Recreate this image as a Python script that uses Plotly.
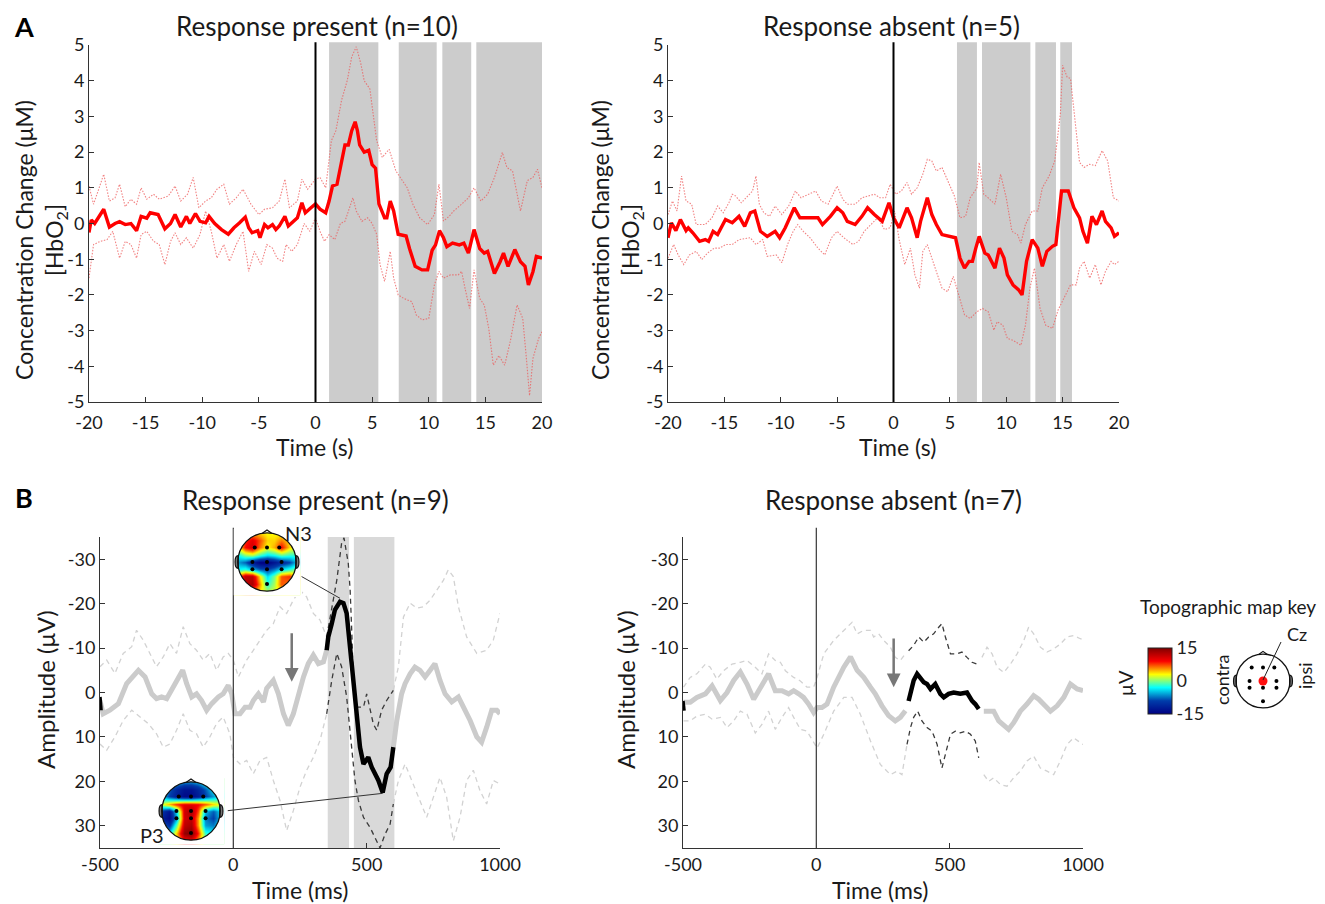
import math
import plotly.graph_objects as go

W, H = 1325, 904
OFF = 8            # page body margin of the browser
FW, FH = W - OFF, H - OFF
FONT = "Lato"

# ---------------- DATA ----------------
# Panel A, response present (n=10): (time s, HbO2 uM)
tl_mean = [(-20,-0.25),(-19.8,0.1),(-19.5,0.0),(-18.7,0.4),(-18.2,-0.1),(-17.7,0.0),(-17.3,0.05),(-16.8,-0.03),
           (-16.3,0.0),(-15.8,-0.2),(-15.4,0.2),(-14.9,0.15),(-14.6,0.3),(-13.9,0.25),(-13.3,-0.15),(-12.8,0.0),
           (-12.4,0.25),(-11.9,-0.1),(-11.4,0.2),(-11.1,0.0),(-10.6,0.28),(-10.2,0.06),(-9.7,0.02),(-9.4,0.2),
           (-8.9,0.0),(-8.3,-0.17),(-7.7,-0.3),(-7.2,-0.12),(-6.7,0.02),(-6.2,0.18),(-5.9,-0.12),(-5.6,-0.26),
           (-5.1,-0.2),(-4.9,-0.4),(-4.5,-0.03),(-4.2,-0.12),(-3.8,-0.03),(-3.5,-0.17),(-3.2,-0.07),(-2.7,0.2),
           (-2.4,-0.07),(-1.9,0.07),(-1.6,0.16),(-1.2,0.58),(-0.9,0.3),(-0.4,0.44),(0,0.55),(0.4,0.4),(0.9,0.3),
           (1.2,0.63),(1.5,1.05),(1.9,1.1),(2.3,1.7),(2.6,2.2),(2.9,2.2),(3.2,2.6),(3.5,2.85),(3.7,2.6),(3.9,2.2),
           (4.3,2.0),(4.7,2.05),(5.0,1.65),(5.3,1.55),(5.6,0.55),(6.1,0.16),(6.3,0.16),(6.6,0.63),(6.9,0.35),
           (7.3,-0.3),(8.0,-0.35),(8.3,-0.7),(8.8,-1.2),(9.4,-1.3),(9.9,-1.3),(10.3,-0.75),(10.6,-0.6),
           (10.95,-0.2),(11.3,-0.4),(11.6,-0.65),(12.1,-0.55),(12.7,-0.6),(13.1,-0.55),(13.5,-0.83),(14.0,-0.17),
           (14.5,-0.7),(14.9,-0.83),(15.2,-0.78),(15.8,-1.4),(16.3,-1.07),(16.6,-0.83),(17.0,-1.2),(17.6,-0.73),
           (18.1,-1.07),(18.5,-1.2),(18.8,-1.72),(19.2,-1.35),(19.5,-0.92),(20,-0.97)]
tl_upper = [(-20,1.05),(-19.6,0.54),(-19.1,1.0),(-18.7,1.38),(-18.2,0.63),(-17.7,0.72),(-17.3,1.1),(-16.8,0.47),
            (-16.3,0.68),(-15.8,0.54),(-15.4,1.0),(-14.9,0.68),(-14.3,0.82),(-13.8,0.68),(-13.0,0.77),(-12.4,1.05),
            (-11.9,0.63),(-11.3,0.82),(-10.8,1.29),(-10.3,0.44),(-9.7,0.63),(-9.2,0.72),(-8.7,0.96),(-8.1,1.1),
            (-7.6,0.54),(-7.0,0.72),(-6.4,0.96),(-5.7,0.54),(-5.0,0.25),(-4.5,0.4),(-3.8,0.44),(-3.2,0.63),
            (-2.7,1.24),(-2.3,0.44),(-1.6,0.63),(-1.2,1.24),(-0.7,0.96),(0,1.24),(0.4,1.29),(0.9,1.0),(1.4,2.32),
            (1.8,2.6),(2.3,3.45),(2.8,4.0),(3.2,4.67),(3.6,4.95),(4.0,4.48),(4.3,4.0),(4.8,3.77),(5.1,3.07),
            (5.4,2.32),(5.9,1.85),(6.5,2.08),(7.1,1.47),(7.7,1.2),(8.1,1.0),(8.6,0.54),(9.2,0.16),(9.9,-0.03),
            (10.5,0.25),(10.9,1.1),(11.3,0.07),(11.8,0.2),(12.2,0.35),(12.9,0.54),(13.5,0.72),(14.0,1.0),
            (14.6,0.63),(15.2,0.82),(15.8,1.29),(16.5,1.99),(16.9,1.57),(17.4,1.47),(18.1,0.35),(18.7,1.2),
            (19.2,1.29),(19.6,1.52),(20,1.0)]
tl_lower = [(-20,-1.53),(-19.6,-0.59),(-19.0,-0.5),(-18.4,-0.45),(-17.9,-0.22),(-17.3,-0.97),(-16.8,-0.5),
            (-16.3,-0.59),(-15.8,-0.97),(-15.4,-0.31),(-14.9,-0.22),(-14.3,-0.5),(-13.8,-0.59),(-13.3,-1.15),
            (-12.8,-0.5),(-12.4,-0.26),(-11.9,-0.59),(-11.4,-0.4),(-10.8,-0.69),(-10.2,-0.31),(-9.7,0.35),
            (-9.2,-0.22),(-8.7,-0.97),(-8.1,-0.59),(-7.6,-1.06),(-7.0,-0.59),(-6.4,-0.22),(-5.9,-1.34),(-5.4,-0.78),
            (-4.8,-1.15),(-4.3,-0.59),(-3.8,-0.69),(-3.4,-0.97),(-2.9,-1.06),(-2.6,-0.59),(-2.1,-0.78),(-1.6,-0.59),
            (-1.0,0.0),(-0.5,-0.22),(0,0.16),(0.4,-0.22),(0.8,-0.5),(1.2,-0.31),(1.7,-0.45),(2.2,0.0),(2.6,0.06),
            (3.3,0.72),(3.6,0.35),(4.1,0.06),(4.6,0.16),(5.0,0.0),(5.4,-0.3),(5.7,-1.15),(6.1,-1.62),(6.6,-0.78),
            (6.9,-1.53),(7.3,-2.0),(7.8,-2.1),(8.5,-2.19),(8.9,-2.56),(9.4,-2.7),(10.0,-2.66),(10.5,-1.72),
            (10.9,-1.34),(11.3,-1.53),(11.9,-1.44),(12.6,-1.44),(12.9,-1.34),(13.2,-1.81),(13.6,-2.38),(14.0,-1.3),
            (14.5,-2.1),(14.9,-2.28),(15.3,-2.94),(15.7,-3.97),(16.2,-3.7),(16.7,-3.97),(17.2,-3.3),(17.8,-2.28),
            (18.3,-2.66),(18.6,-3.7),(18.9,-4.82),(19.2,-3.78),(19.7,-3.22),(20,-3.03)]
tl_sig = [(1.2,5.55),(7.35,10.7),(11.2,13.75),(14.2,20.0)]

# Panel A, response absent (n=5)
tr_mean = [(-20,-0.4),(-19.7,0.02),(-19.3,-0.2),(-18.9,0.11),(-18.4,-0.2),(-18.2,-0.12),(-17.8,-0.26),(-17.2,-0.5),
           (-16.7,-0.45),(-16.4,-0.5),(-16.0,-0.22),(-15.6,-0.31),(-14.9,0.11),(-14.3,0.02),(-13.7,0.2),(-13.2,-0.08),
           (-12.7,0.3),(-12.3,0.35),(-11.8,-0.22),(-11.2,-0.36),(-10.5,-0.22),(-10.1,-0.4),(-9.6,-0.12),(-9.1,0.2),
           (-8.8,0.44),(-8.3,0.16),(-7.4,0.16),(-6.7,0.16),(-6.3,-0.03),(-5.6,0.2),(-5.0,0.44),(-4.5,0.3),
           (-4.1,0.06),(-3.4,-0.03),(-2.8,0.2),(-2.3,0.44),(-1.7,0.25),(-1.0,0.06),(-0.4,0.58),(0,0.16),
           (0.5,-0.12),(1.2,0.44),(1.6,0.16),(2.1,-0.4),(2.4,0.06),(3.0,0.72),(3.4,0.25),(3.8,-0.03),(4.3,-0.31),
           (5.0,-0.36),(5.5,-0.4),(5.9,-0.97),(6.3,-1.25),(6.7,-1.06),(7.0,-1.06),(7.3,-0.69),(7.6,-0.36),
           (8.1,-0.83),(8.4,-0.88),(9.0,-1.25),(9.4,-0.69),(9.8,-0.97),(10.1,-1.44),(10.6,-1.72),(11.1,-1.86),
           (11.4,-2.0),(11.8,-1.06),(12.3,-0.45),(12.8,-0.69),(13.2,-1.2),(13.6,-0.78),(14.1,-0.64),(14.4,-0.59),
           (14.9,0.91),(15.5,0.91),(16.0,0.44),(16.5,0.16),(16.8,-0.22),(17.2,-0.55),(17.6,0.2),(18.0,-0.03),
           (18.5,0.35),(18.8,0.06),(19.3,-0.12),(19.6,-0.36),(20,-0.26)]
tr_upper = [(-20,0.25),(-19.6,0.63),(-19.2,0.35),(-18.8,1.33),(-18.4,0.63),(-17.9,0.54),(-17.5,-0.03),(-16.7,-0.03),
            (-16.1,0.16),(-15.6,0.49),(-15.1,0.3),(-14.6,0.58),(-14.3,0.82),(-14.0,0.77),(-13.5,0.58),(-13.1,0.72),
            (-12.5,0.91),(-12.2,1.33),(-11.9,0.54),(-11.5,0.3),(-11.0,0.2),(-10.5,0.49),(-9.9,0.25),(-9.3,0.49),
            (-8.7,0.91),(-8.2,0.72),(-7.5,0.82),(-6.9,0.91),(-6.4,0.63),(-5.8,0.54),(-5.0,1.05),(-4.5,0.68),
            (-4.1,0.54),(-3.4,0.54),(-2.8,0.72),(-2.3,0.77),(-1.7,0.82),(-1.2,0.72),(-0.7,0.72),(-0.3,1.1),
            (0.2,0.82),(0.7,0.91),(1.2,1.15),(1.6,0.82),(2.1,1.0),(2.6,1.38),(3.0,1.8),(3.4,1.75),(3.8,1.47),
            (4.3,1.57),(4.8,1.2),(5.4,0.77),(5.9,0.16),(6.4,0.2),(6.8,0.72),(7.4,1.0),(7.6,1.71),(8.0,0.82),
            (8.4,0.72),(9.0,0.54),(9.5,1.38),(10.0,0.72),(10.5,-0.22),(11.0,-0.31),(11.3,-0.55),(11.7,-0.03),
            (12.3,0.35),(12.8,0.35),(13.2,1.0),(13.8,1.33),(14.3,1.75),(14.8,3.07),(15.0,4.43),(15.4,4.1),
            (15.7,4.06),(16.1,2.88),(16.5,1.71),(16.9,1.57),(17.4,1.66),(17.9,1.62),(18.5,2.04),(19.0,1.75),
            (19.5,0.72),(20,0.63)]
tr_lower = [(-20,-0.97),(-19.5,-0.59),(-19.1,-0.88),(-18.6,-1.15),(-18.1,-0.88),(-17.5,-0.78),(-17.0,-1.01),
            (-16.5,-0.83),(-15.9,-0.69),(-15.4,-0.69),(-14.9,-0.59),(-14.3,-0.59),(-13.7,-0.45),(-12.7,-0.4),
            (-12.2,-0.59),(-11.6,-0.45),(-11.2,-0.92),(-10.4,-0.88),(-9.9,-1.1),(-9.4,-0.59),(-8.9,-0.22),
            (-8.5,-0.03),(-8.0,-0.22),(-7.4,-0.4),(-6.7,-0.69),(-6.1,-0.88),(-5.5,-0.4),(-5.0,-0.22),(-4.4,-0.4),
            (-3.6,-0.59),(-3.1,-0.5),(-2.6,-0.22),(-2.0,-0.03),(-1.4,0.16),(-0.8,-0.17),(-0.3,-0.12),(0.1,0.35),
            (0.5,-0.45),(1.0,-1.15),(1.5,-0.69),(1.9,-1.44),(2.3,-1.81),(2.6,-0.78),(3.0,-0.59),(3.4,-0.97),
            (3.8,-1.34),(4.3,-1.81),(4.8,-1.91),(5.3,-1.48),(5.7,-1.91),(6.3,-2.56),(6.8,-2.66),(7.4,-2.47),
            (7.9,-2.38),(8.4,-2.47),(8.9,-2.99),(9.2,-2.75),(9.7,-2.85),(10.1,-3.22),(10.6,-3.27),(11.3,-3.41),
            (11.7,-2.85),(12.1,-1.81),(12.5,-1.25),(13.0,-2.38),(13.5,-2.85),(14.1,-2.94),(14.6,-2.42),
            (15.1,-2.1),(15.7,-1.72),(16.2,-1.72),(16.5,-1.25),(16.9,-1.06),(17.4,-1.53),(17.9,-1.15),
            (18.4,-1.72),(18.8,-1.34),(19.3,-1.06),(19.6,-1.15),(20,-1.06)]
tr_sig = [(5.63,7.4),(7.85,12.14),(12.58,14.41),(14.79,15.83)]

# Panel B, response present (n=9): (time ms, amplitude uV)
bl_mean = [(-500,1.8),(-488,4.8),(-463,4.0),(-431,2.5),(-400,-2.0),(-375,-3.5),(-356,-5.0),(-331,-3.5),(-306,0.3),
           (-288,1.4),(-269,1.0),(-250,1.4),(-225,-1.2),(-206,-3.5),(-190,-5.0),(-175,-2.0),(-156,1.0),(-138,0.3),
           (-119,1.8),(-100,4.0),(-81,2.5),(-56,1.0),(-38,0.3),(-19,-1.6),(-6,0.3),(6,4.8),(25,4.8),(44,3.3),
           (63,3.3),(75,1.8),(94,0.3),(113,2.1),(125,-0.9),(150,-2.7),(169,0.3),(188,4.8),(206,7.4),(225,4.8),
           (244,0.3),(263,-3.5),(281,-6.5),(300,-8.4),(319,-6.5),(338,-6.9),(350,-9.5),(356,-12.5),(369,-15.5),
           (381,-18.6),(400,-20.4),(413,-20.1),(425,-17.8),(438,-10.3),(450,-2.7),(463,6.3),(475,12.3),(488,16.1),
           (506,14.6),(519,16.8),(544,19.8),(560,22.5),(575,18.3),(590,16.8),(600,12.3),(613,6.3),(631,0.3),
           (644,-2.0),(663,-4.2),(681,-5.7),(700,-5.0),(719,-3.5),(738,-5.0),(756,-6.5),(775,-2.7),(794,0.3),
           (819,2.1),(844,1.0),(863,3.3),(888,6.3),(913,10.0),(931,11.2),(950,7.8),(969,4.0),(988,4.0),(1000,4.8)]
bl_ci_a = [(-500,-5.8),(-475,-7.3),(-444,-4.3),(-413,-8.8),(-381,-10.3),(-363,-14.0),(-338,-11.8),(-313,-8.8),
           (-288,-5.8),(-263,-8.0),(-238,-11.0),(-213,-8.8),(-188,-14.8),(-163,-11.0),(-138,-9.5),(-113,-7.3),
           (-88,-8.8),(-63,-5.0),(-38,-8.0),(-19,-8.8),(0,-7.3),(19,-3.5),(50,-7.3),(75,-9.5),(100,-11.8),
           (125,-14.0),(150,-15.5),(175,-19.3),(200,-17.8),(225,-20.8),(250,-23.0),(275,-21.5),(300,-17.8),
           (325,-16.3),(350,-12.5),(369,-19.3),(388,-25.3),(406,-33.6),(415,-34.8),(431,-29.1),(438,-23.1),
           (444,-14.0),(450,-2.7),(463,3.3),(488,3.3),(500,0.3),(513,4.0),(525,7.1),(538,8.5),(556,4.0),
           (575,1.8),(600,-0.5),(619,-5.8),(638,-17.0),(663,-20.1),(688,-19.0),(713,-19.3),(738,-20.8),
           (763,-23.0),(788,-25.3),(806,-27.6),(825,-26.1),(844,-19.3),(875,-12.5),(913,-8.8),(950,-9.5),
           (975,-11.8),(1000,-17.8)]
bl_ci_b = [(-500,11.6),(-475,13.0),(-444,10.0),(-413,6.3),(-381,4.0),(-350,5.5),(-319,7.0),(-288,9.3),(-263,12.3),
           (-238,11.6),(-213,8.5),(-188,4.8),(-163,8.5),(-138,9.3),(-113,12.3),(-88,10.0),(-63,7.0),(-38,5.5),
           (-13,9.3),(0,14.6),(25,16.1),(50,15.3),(75,18.3),(100,15.3),(125,14.6),(150,19.8),(175,24.3),
           (200,31.1),(225,26.6),(250,21.3),(275,17.5),(300,14.6),(325,10.8),(350,4.8),(369,-2.7),(388,-8.8),
           (406,-5.8),(425,1.0),(444,11.6),(456,19.8),(469,24.3),(488,28.1),(513,30.4),(538,33.4),(550,35.0),
           (569,31.9),(588,29.6),(600,25.1),(619,19.8),(644,16.1),(669,19.8),(700,24.3),(725,28.1),(750,23.6),
           (775,19.1),(800,23.6),(825,33.4),(850,28.1),(875,19.8),(900,17.5),(925,22.1),(950,25.1),(975,19.8),
           (1000,20.6)]
bl_black = (350, 600)
bl_edge = [(-500, 1.0), (-496, 4.0)]
bl_sig = [(354, 434), (452, 604)]
bl_arrow = (219, -13.7, -2.4)

# Panel B, response absent (n=7)
br_mean = [(-498,2.2),(-473,2.2),(-448,1.1),(-416,0.3),(-391,-1.5),(-360,1.8),(-335,0.0),(-310,-2.7),(-285,-4.6),
           (-260,-1.9),(-235,1.5),(-210,-1.2),(-179,-4.2),(-154,-0.4),(-129,-0.4),(-104,0.3),(-85,-0.4),(-66,0.3),
           (-48,1.1),(-29,2.6),(-10,4.5),(3,3.4),(21,3.4),(40,2.6),(65,-1.2),(103,-5.7),(128,-8.0),(153,-5.0),
           (178,-3.4),(203,-1.2),(221,0.3),(246,3.0),(271,5.2),(296,6.4),(315,5.6),(334,4.1),(346,1.9),(353,0.3),
           (365,-2.7),(378,-4.2),(390,-3.4),(403,-2.3),(415,-1.9),(428,-0.8),(446,-1.9),(465,0.3),(478,1.1),
           (496,0.3),(515,0.0),(540,0.3),(565,0.0),(584,1.9),(596,2.6),(609,3.7),(628,4.2),(646,4.2),(665,4.2),
           (684,6.4),(703,7.5),(721,8.3),(740,6.8),(765,4.2),(790,2.6),(815,0.7),(834,1.5),(859,3.0),(878,4.2),
           (903,3.0),(928,1.1),(953,-1.9),(978,-0.8),(1000,-0.4)]
br_ci_a = [(-498,-1.2),(-473,-3.4),(-448,-4.2),(-416,-6.4),(-398,-5.7),(-373,-3.0),(-348,-4.9),(-316,-6.4),
           (-285,-6.8),(-260,-7.2),(-229,-5.7),(-204,-4.2),(-179,-8.7),(-154,-7.2),(-135,-6.8),(-116,-4.9),
           (-85,-3.4),(-60,-2.6),(-35,-1.2),(-10,-1.2),(3,-3.4),(28,-8.7),(65,-11.7),(90,-13.2),(115,-14.7),
           (134,-15.8),(153,-13.2),(178,-14.0),(203,-14.0),(215,-12.5),(234,-13.2),(253,-11.7),(278,-10.2),
           (296,-7.9),(315,-7.2),(334,-8.7),(346,-9.4),(365,-10.6),(384,-12.5),(403,-11.3),(421,-12.5),
           (440,-13.2),(459,-14.7),(471,-15.5),(484,-12.5),(503,-8.7),(528,-8.7),(546,-9.1),(565,-7.9),
           (584,-6.8),(603,-6.4),(621,-7.9),(640,-10.2),(659,-8.7),(678,-5.7),(703,-4.5),(728,-6.4),(753,-8.7),
           (778,-11.7),(796,-14.7),(815,-13.2),(840,-10.2),(865,-9.1),(890,-9.8),(915,-10.9),(940,-12.5),
           (965,-12.8),(990,-12.1),(1000,-11.9)]
br_ci_b = [(-498,6.4),(-473,6.4),(-448,5.3),(-416,4.9),(-391,6.0),(-360,5.6),(-335,7.9),(-310,6.4),(-285,4.2),
           (-260,4.9),(-229,9.1),(-204,7.2),(-179,4.2),(-154,8.3),(-129,5.6),(-104,3.4),(-85,5.6),(-60,8.3),
           (-35,8.7),(-10,11.3),(3,12.5),(28,9.4),(65,4.2),(103,1.1),(134,1.1),(165,4.9),(203,10.9),(240,16.2),
           (278,18.5),(303,17.7),(321,18.5),(340,11.7),(353,7.9),(365,5.6),(380,4.2),(396,6.4),(415,7.9),
           (434,8.7),(453,11.7),(471,17.0),(484,14.0),(503,9.4),(521,8.7),(540,9.1),(559,8.7),(578,9.4),
           (596,10.9),(609,14.7),(628,18.5),(646,20.0),(665,19.2),(690,20.7),(715,21.1),(740,19.2),(765,17.7),
           (790,15.4),(815,14.3),(840,17.0),(865,17.7),(890,18.5),(915,15.4),(940,11.7),(965,10.2),(990,11.3),
           (1000,11.7)]
br_black = (340, 610)
br_edge = [(-500, 1.9), (-496, 4.1)]
br_arrow = (290, -12.5, -1.2)

# Topographic maps (uV), 9x9 grid, rows front -> back, columns contra -> ipsi
topo_grid = [-1.0, -0.75, -0.5, -0.25, 0.0, 0.25, 0.5, 0.75, 1.0]
topo_n3 = [[3, 4, 5, 4, 3, 3, 3, 3, 3],
           [4, 8, 10, 7, 4, 4, 6, 4, 3],
           [3, 9, 11, 6, 3, 5, 9, 4, 2],
           [-3, 0, 1, -2, -4, -3, -1, -2, -2],
           [-6, -8, -12, -15, -15, -13, -11, -9, -5],
           [-3, -2, -5, -8, -9, -7, -4, -2, 0],
           [6, 12, 12, 3, -4, 0, 7, 8, 4],
           [5, 12, 13, 5, -2, 1, 7, 6, 3],
           [3, 5, 6, 3, 1, 2, 3, 3, 2]]
topo_p3 = [[0, -2, -5, -7, -7, -6, -3, -1, 0],
           [-3, -8, -11, -13, -13, -11, -8, -4, -1],
           [-5, -9, -12, -14, -14, -12, -9, -6, -3],
           [2, 5, 8, 10, 10, 9, 7, 4, 2],
           [-10, -13, -4, 11, 13, 7, -5, -8, -4],
           [-12, -14, -6, 11, 12, 5, -7, -9, -5],
           [-8, -10, -1, 12, 13, 5, -6, -7, -3],
           [-3, -4, 4, 14, 15, 8, -2, -3, -1],
           [0, 0, 3, 9, 10, 5, 0, 0, 0]]
electrodes_x = [-0.42, 0, 0.42, -0.5, 0, 0.5, -0.5, 0, 0.5, 0]
electrodes_y = [0.5, 0.5, 0.5, 0, 0, 0, -0.25, -0.25, -0.25, -0.75]
topo_range = (-15, 15)

# tick values (labels use a plain hyphen as in the original)
tA_x = list(range(-20, 21, 5))
tA_y = list(range(-5, 6))
tB_x = [-500, 0, 500, 1000]
tB_y = [-30, -20, -10, 0, 10, 20, 30]

# ---------------- FIGURE ----------------
fig = go.Figure()

def px(p):
    return (p - OFF) / FW

def py(p):
    return 1 - (p - OFF) / FH

def xs(pairs):
    return [p[0] for p in pairs]

def ys(pairs):
    return [p[1] for p in pairs]

RED_DOT = "rgba(238,90,90,0.75)"

for (up, lo, mn), (xa, ya) in (((tl_upper, tl_lower, tl_mean), ("x", "y")),
                               ((tr_upper, tr_lower, tr_mean), ("x2", "y2"))):
    for d in (up, lo):
        fig.add_trace(go.Scatter(x=xs(d), y=ys(d), mode="lines", xaxis=xa, yaxis=ya,
                                 line=dict(color=RED_DOT, width=1.1, dash="1.5px,1.5px"), hoverinfo="skip"))
    fig.add_trace(go.Scatter(x=xs(mn), y=ys(mn), mode="lines", xaxis=xa, yaxis=ya,
                             line=dict(color="#ff0000", width=3.4), hoverinfo="skip"))


def split(pairs, win):
    t0, t1 = win
    out = [v if not (t0 < t < t1) else None for t, v in pairs]
    inn = [v if (t0 <= t <= t1) else None for t, v in pairs]
    return xs(pairs), out, inn

for (mn, ca, cb, win, edge), (xa, ya) in (((bl_mean, bl_ci_a, bl_ci_b, bl_black, bl_edge), ("x3", "y3")),
                                          ((br_mean, br_ci_a, br_ci_b, br_black, br_edge), ("x4", "y4"))):
    for d in (ca, cb):
        x, out, inn = split(d, win)
        fig.add_trace(go.Scatter(x=x, y=out, mode="lines", xaxis=xa, yaxis=ya,
                                 line=dict(color="#d2d2d2", width=1.3, dash="5px,4px"), hoverinfo="skip"))
        fig.add_trace(go.Scatter(x=x, y=inn, mode="lines", xaxis=xa, yaxis=ya,
                                 line=dict(color="#3a3a3a", width=1.3, dash="5px,4px"), hoverinfo="skip"))
    x, out, inn = split(mn, win)
    fig.add_trace(go.Scatter(x=x, y=out, mode="lines", xaxis=xa, yaxis=ya,
                             line=dict(color="#cbcbcb", width=5), hoverinfo="skip"))
    fig.add_trace(go.Scatter(x=x, y=inn, mode="lines", xaxis=xa, yaxis=ya,
                             line=dict(color="#000000", width=4.5), hoverinfo="skip"))
    fig.add_trace(go.Scatter(x=xs(edge), y=ys(edge), mode="lines", xaxis=xa, yaxis=ya,
                             line=dict(color="#000000", width=3.5), hoverinfo="skip"))

for xa, ya, z, scale in (("x5", "y5", topo_n3, True), ("x6", "y6", topo_p3, False)):
    fig.add_trace(go.Heatmap(x=topo_grid, y=topo_grid[::-1], z=z, zsmooth="best", colorscale="Jet",
                             zmin=topo_range[0], zmax=topo_range[1], xaxis=xa, yaxis=ya, hoverinfo="skip",
                             showscale=scale,
                             colorbar=dict(x=px(1148), xanchor="left", y=py(681), yanchor="middle",
                                           len=66, lenmode="pixels", thickness=24, thicknessmode="pixels",
                                           outlinecolor="#222", outlinewidth=1, tickvals=[-15, 0, 15],
                                           ticktext=["-15", "0", "15"], ticks="", xpad=0, ypad=0,
                                           tickfont=dict(family=FONT, size=18, color="#222"))))
    fig.add_trace(go.Scatter(x=electrodes_x, y=electrodes_y, mode="markers", xaxis=xa, yaxis=ya,
                             marker=dict(color="black", size=4), hoverinfo="skip"))
fig.add_trace(go.Scatter(x=electrodes_x, y=electrodes_y, mode="markers", xaxis="x7", yaxis="y7",
                         marker=dict(color="black", size=4), hoverinfo="skip"))
fig.add_trace(go.Scatter(x=[0], y=[0], mode="markers", xaxis="x7", yaxis="y7",
                         marker=dict(color="#ff1010", size=9), hoverinfo="skip"))

# ---------------- LAYOUT ----------------
tickfont = dict(family=FONT, size=18, color="#1a1a1a")
common_axis = dict(showgrid=False, zeroline=False, showline=True, linecolor="#333", linewidth=1,
                   ticks="inside", ticklen=5, tickcolor="#333", tickfont=tickfont, mirror=False)

def lab(vals):
    return [str(v) for v in vals]

yA = [py(402), py(45)]
yB = [py(848), py(537)]

def head_axis(cx, cy, half, rng):
    return (dict(domain=[px(cx - half), px(cx + half)], range=[-rng, rng], visible=False, fixedrange=True),
            dict(domain=[py(cy + half), py(cy - half)], range=[-rng, rng], visible=False, fixedrange=True))

hx5, hy5 = head_axis(267, 562, 35, 1.2)
hx6, hy6 = head_axis(191, 811, 35, 1.2)
hx7, hy7 = head_axis(1263, 681, 35, 1.3)

fig.update_layout(
    width=FW, height=FH, margin=dict(l=0, r=0, t=0, b=0, autoexpand=False), showlegend=False,
    paper_bgcolor="white", plot_bgcolor="white", hovermode=False,
    font=dict(family=FONT, color="#222"),
    xaxis=dict(common_axis, domain=[px(89), px(542)], range=[-20, 20], tickvals=tA_x, ticktext=lab(tA_x),
               anchor="y", ticklabelstandoff=4),
    yaxis=dict(common_axis, domain=yA, range=[-5, 5], tickvals=tA_y, ticktext=lab(tA_y), anchor="x"),
    xaxis2=dict(common_axis, domain=[px(668), px(1119)], range=[-20, 20], tickvals=tA_x, ticktext=lab(tA_x),
                anchor="y2", ticklabelstandoff=4),
    yaxis2=dict(common_axis, domain=yA, range=[-5, 5], tickvals=tA_y, ticktext=lab(tA_y), anchor="x2"),
    xaxis3=dict(common_axis, domain=[px(100), px(500)], range=[-500, 1000], tickvals=tB_x, ticktext=lab(tB_x), anchor="y3"),
    yaxis3=dict(common_axis, domain=yB, range=[35, -35], tickvals=tB_y, ticktext=lab(tB_y), anchor="x3"),
    xaxis4=dict(common_axis, domain=[px(683), px(1083)], range=[-500, 1000], tickvals=tB_x, ticktext=lab(tB_x), anchor="y4"),
    yaxis4=dict(common_axis, domain=yB, range=[35, -35], tickvals=tB_y, ticktext=lab(tB_y), anchor="x4"),
    xaxis5=dict(hx5, anchor="y5"), yaxis5=dict(hy5, anchor="x5"),
    xaxis6=dict(hx6, anchor="y6"), yaxis6=dict(hy6, anchor="x6"),
    xaxis7=dict(hx7, anchor="y7"), yaxis7=dict(hy7, anchor="x7"),
)

shapes = []
for (a, b) in tl_sig:
    shapes.append(dict(type="rect", xref="x", yref="y domain", x0=a, x1=b, y0=0, y1=1.008,
                       fillcolor="#cccccc", line=dict(width=0), layer="below"))
for (a, b) in tr_sig:
    shapes.append(dict(type="rect", xref="x2", yref="y2 domain", x0=a, x1=b, y0=0, y1=1.008,
                       fillcolor="#cccccc", line=dict(width=0), layer="below"))
for (a, b) in bl_sig:
    shapes.append(dict(type="rect", xref="x3", yref="y3 domain", x0=a, x1=b, y0=0, y1=1,
                       fillcolor="#d9d9d9", line=dict(width=0), layer="below"))
shapes.append(dict(type="line", xref="x", yref="y domain", x0=0, x1=0, y0=0, y1=1.008, line=dict(color="black", width=2)))
shapes.append(dict(type="line", xref="x2", yref="y2 domain", x0=0, x1=0, y0=0, y1=1.008, line=dict(color="black", width=2)))
shapes.append(dict(type="line", xref="x3", yref="y3 domain", x0=0, x1=0, y0=0, y1=1.03, line=dict(color="#444", width=1.3)))
shapes.append(dict(type="line", xref="x4", yref="y4 domain", x0=0, x1=0, y0=0, y1=1.03, line=dict(color="#444", width=1.3)))
shapes.append(dict(type="line", xref="x3", yref="y3", x0=256, y0=-26.1, x1=400, y1=-21.2, line=dict(color="#333", width=1)))
shapes.append(dict(type="line", xref="x3", yref="y3", x0=-21, y0=26.6, x1=560, y1=22.7, line=dict(color="#333", width=1)))

circ = [(math.cos(2 * math.pi * k / 72), math.sin(2 * math.pi * k / 72)) for k in range(72)]
mask_path = ("M -1.14,-1.14 L 1.14,-1.14 L 1.14,1.14 L -1.14,1.14 Z M "
             + " L ".join(f"{a:.4f},{b:.4f}" for a, b in circ) + " Z")
for xa, ya in (("x5", "y5"), ("x6", "y6"), ("x7", "y7")):
    if xa != "x7":
        shapes.append(dict(type="path", xref=xa, yref=ya, path=mask_path, fillcolor="white", fillrule="evenodd",
                           line=dict(width=0), layer="above"))
    shapes.append(dict(type="path", xref=xa, yref=ya, path="M -0.99,0.22 C -1.13,0.22 -1.13,-0.22 -0.99,-0.22 Z",
                       fillcolor="#777", line=dict(color="#111", width=1.2)))
    shapes.append(dict(type="path", xref=xa, yref=ya, path="M 0.99,0.22 C 1.13,0.22 1.13,-0.22 0.99,-0.22 Z",
                       fillcolor="#777", line=dict(color="#111", width=1.2)))
    shapes.append(dict(type="path", xref=xa, yref=ya, path="M -0.16,0.985 L 0,1.1 L 0.16,0.985",
                       line=dict(color="#111", width=1.2)))
    shapes.append(dict(type="circle", xref=xa, yref=ya, x0=-1, x1=1, y0=-1, y1=1,
                       line=dict(color="#111", width=1.3)))
shapes.append(dict(type="line", xref="paper", yref="paper", x0=px(1263), y0=py(680), x1=px(1281), y1=py(642),
                   line=dict(color="#222", width=1)))
fig.update_layout(shapes=shapes)

ann = []

def text(x, y, t, size, angle=0, bold=False, color="#1a1a1a"):
    ann.append(dict(x=px(x), y=py(y), xref="paper", yref="paper", text=f"<b>{t}</b>" if bold else t,
                    showarrow=False, textangle=angle, xanchor="center", yanchor="middle",
                    font=dict(family=FONT, size=size, color=color)))

text(24, 27, "A", 27, bold=True, color="black")
text(24, 497, "B", 27, bold=True, color="black")
text(317, 26, "Response present (n=10)", 26)
text(891, 26, "Response absent (n=5)", 26)
text(315, 500, "Response present (n=9)", 26)
text(893, 500, "Response absent (n=7)", 26)
text(41, 240, "Concentration Change (μM)<br>[HbO<sub>2</sub>]", 23, angle=-90)
text(617, 240, "Concentration Change (μM)<br>[HbO<sub>2</sub>]", 23, angle=-90)
text(314, 447, "Time (s)", 23)
text(898, 447, "Time (s)", 23)
text(45, 690, "Amplitude (μV)", 24, angle=-90)
text(625, 690, "Amplitude (μV)", 24, angle=-90)
text(300, 890, "Time (ms)", 23)
text(880, 890, "Time (ms)", 23)
text(298, 533, "N3", 20)
text(152, 835, "P3", 20)
text(1228, 606, "Topographic map key", 19)
text(1297, 634, "Cz", 18)
text(1125, 683, "μV", 20, angle=-90)
text(1222, 680, "contra", 18, angle=-90)
text(1305, 676, "ipsi", 18, angle=-90)

for (t, y0, y1), xa, ya in ((bl_arrow, "x3", "y3"), (br_arrow, "x4", "y4")):
    ann.append(dict(x=t, y=y1, xref=xa, yref=ya, ax=t, ay=y0, axref=xa, ayref=ya, text="",
                    showarrow=True, arrowhead=2, arrowsize=1.1, arrowwidth=2.5, arrowcolor="#777"))

fig.update_layout(annotations=ann)

fig.write_html("out.html")
